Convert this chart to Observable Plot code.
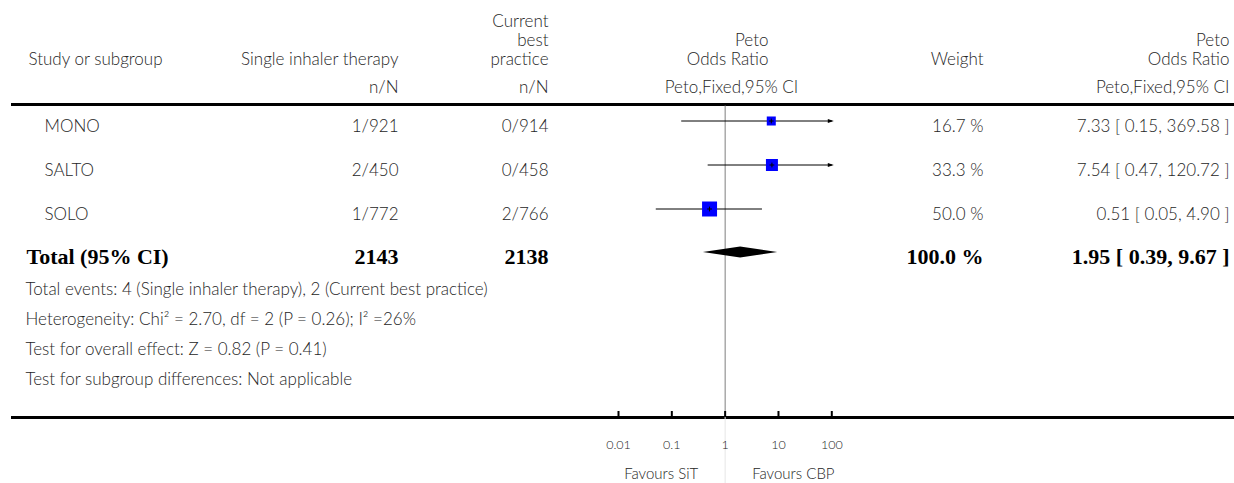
<!DOCTYPE html>
<html><head><meta charset="utf-8">
<script src="https://cdn.jsdelivr.net/npm/d3@7"></script>
<script src="https://cdn.jsdelivr.net/npm/@observablehq/plot@0.6"></script>
<style>
html,body{margin:0;padding:0;background:#fff;}
#chart{position:relative;width:1234px;height:483px;}
#chart svg{position:absolute;left:0;top:0;background:transparent;}
</style></head><body><div id="chart"></div>
<script>
// ---------- data ----------
const studies = ["MONO", "SALTO", "SOLO"];
const sitEvents = ["1/921", "2/450", "1/772"];
const cbpEvents = ["0/914", "0/458", "2/766"];
const oddsRatio = [7.33, 7.54, 0.51];
const ciLow = [0.15, 0.47, 0.05];
const ciHigh = [369.58, 120.72, 4.90];
const weights = [16.7, 33.3, 50.0];
const totalLabel = "Total (95% CI)";
const totalSit = 2143;
const totalCbp = 2138;
const totalOR = 1.95;
const totalLow = 0.39;
const totalHigh = 9.67;
const totalWeight = 100.0;
const footnotes = [
  "Total events: 4 (Single inhaler therapy), 2 (Current best practice)",
  "Heterogeneity: Chi\u00B2 = 2.70, df = 2 (P = 0.26); I\u00B2 =26%",
  "Test for overall effect: Z = 0.82 (P = 0.41)",
  "Test for subgroup differences: Not applicable"
];
const tickValues = [0.01, 0.1, 1, 10, 100];
const tickLabels = ["0.01", "0.1", "1", "10", "100"];
const favoursLabels = ["Favours SiT", "Favours CBP"];
const colTitles = ["Study or subgroup", "Single inhaler therapy", "Current\nbest\npractice", "Peto\nOdds Ratio", "Weight", "Peto\nOdds Ratio"];
const colSubTitles = ["", "n/N", "n/N", "Peto,Fixed,95% CI", "", "Peto,Fixed,95% CI"];

// ---------- layout ----------
const W = 1234, H = 483;
const ruleTopY = 104, ruleBottomY = 417, ruleLeft = 11;
const row0 = 120, rowStep = 44, textDy = 6;
const totalY = row0 + rowStep * studies.length;
const footY0 = 289, footStep = 30;
const headLastY = 59, headLineH = 19, subHeadY = 87;
const cols = [
  {x: 28, anchor: "start"},
  {x: 398, anchor: "end"},
  {x: 548, anchor: "end"},
  {x: 768, anchor: "end"},
  {x: 983, anchor: "end"},
  {x: 1229, anchor: "end"}
];
const subCols = [
  {x: 28, anchor: "start"},
  {x: 398, anchor: "end"},
  {x: 548, anchor: "end"},
  {x: 731, anchor: "middle"},
  {x: 983, anchor: "end"},
  {x: 1229, anchor: "end"}
];
const studyX = 44, footX = 25;
const forestRange = [618, 831.3];
const textColor = "#262626";
const sans = "Lato, 'Open Sans', sans-serif";
const serif = "'Liberation Serif', 'Times New Roman', serif";

// ---------- derived tables ----------
const fmt2 = v => v.toFixed(2);
const rows = studies.map((s, i) => ({
  study: s, sit: sitEvents[i], cbp: cbpEvents[i],
  or: oddsRatio[i], lo: ciLow[i], hi: ciHigh[i], w: weights[i],
  y: row0 + rowStep * i,
  wText: weights[i].toFixed(1) + " %",
  ciText: `${fmt2(oddsRatio[i])} [ ${fmt2(ciLow[i])}, ${fmt2(ciHigh[i])} ]`
}));

const headerCells = [];
colTitles.forEach((t, c) => {
  const lines = t.split("\n");
  lines.forEach((ln, k) => headerCells.push({
    text: ln, x: cols[c].x, anchor: cols[c].anchor,
    y: headLastY - (lines.length - 1 - k) * headLineH
  }));
});
colSubTitles.forEach((t, c) => { if (t) headerCells.push({text: t, x: subCols[c].x, anchor: subCols[c].anchor, y: subHeadY}); });

const cellMarks = [];
const addCol = (field, c, x) => cellMarks.push(Plot.text(rows, {
  x: () => x ?? cols[c].x, y: d => d.y + textDy, text: field, textAnchor: cols[c].anchor
}));
addCol("study", 0, studyX);
addCol("sit", 1);
addCol("cbp", 2);
addCol("wText", 4);
addCol("ciText", 5);

const totalCells = [
  {text: totalLabel, x: 26, anchor: "start"},
  {text: String(totalSit), x: cols[1].x, anchor: "end"},
  {text: String(totalCbp), x: cols[2].x, anchor: "end"},
  {text: totalWeight.toFixed(1) + " %", x: cols[4].x, anchor: "end"},
  {text: `${fmt2(totalOR)} [ ${fmt2(totalLow)}, ${fmt2(totalHigh)} ]`, x: cols[5].x, anchor: "end"}
];

// ---------- table plot ----------
const table = Plot.plot({
  width: W, height: H, margin: 0,
  x: {domain: [0, W], range: [0, W], axis: null},
  y: {domain: [0, H], range: [0, H], axis: null},
  style: {fontFamily: sans, fontSize: "17px", fontWeight: 300, color: textColor, background: "transparent"},
  marks: [
    ...["start", "middle", "end"].map(a => Plot.text(headerCells.filter(d => d.anchor === a), {
      x: "x", y: "y", text: "text", textAnchor: a
    })),
    ...cellMarks,
    ...["start", "end"].map(a => Plot.text(totalCells.filter(d => d.anchor === a), {
      x: "x", y: () => totalY + 4, text: "text", textAnchor: a,
      fontFamily: serif, fontWeight: "bold", fontSize: 22, fill: "#000"
    })),
    Plot.text(footnotes, {x: () => footX, y: (d, i) => footY0 + i * footStep, text: d => d, textAnchor: "start"}),
    Plot.ruleY([ruleTopY, ruleBottomY], {x1: ruleLeft, x2: W, stroke: "#000", strokeWidth: 3})
  ]
});

// ---------- forest plot ----------
const arrowRight = {draw(ctx, size) {
  const r = Math.sqrt(size / Math.PI);
  ctx.moveTo(r, 0); ctx.lineTo(-r, -r * 0.65); ctx.lineTo(-r, r * 0.65); ctx.closePath();
}};
const crossTick = {draw(ctx, size) {
  const r = Math.sqrt(size / Math.PI);
  ctx.moveTo(0, -r); ctx.lineTo(0, r); ctx.moveTo(-r, 0); ctx.lineTo(r, 0);
}};
const maxX = tickValues[tickValues.length - 1];
const diamond = [
  {x: totalLow, h: 0}, {x: totalOR, h: 5.5}, {x: totalHigh, h: 0}
];

const forest = Plot.plot({
  width: W, height: H, margin: 0,
  x: {type: "log", domain: [tickValues[0], maxX], range: forestRange, axis: null},
  y: {domain: [0, H], range: [0, H], axis: null},
  r: {type: "linear", domain: [0, 50], range: [3.4, 8.46]},
  style: {fontFamily: sans, fontSize: "13px", fontWeight: 300, color: textColor, background: "transparent"},
  marks: [
    Plot.ruleX([1], {y1: ruleTopY + 1.5, y2: ruleBottomY, stroke: "#7f7f7f", strokeWidth: 1}),
    Plot.ruleX([1], {y1: ruleBottomY, y2: H, stroke: "#e6e6e6", strokeWidth: 1}),
    Plot.link(rows, {x1: "lo", x2: d => Math.min(d.hi, maxX), y1: d => d.y + 0.5, y2: d => d.y + 0.5, stroke: "#000", strokeWidth: 1}),
    Plot.dot(rows.filter(d => d.hi > maxX), {x: () => maxX, y: d => d.y + 0.5, symbol: arrowRight, r: 3, fill: "#000", dx: -1}),
    Plot.dot(rows, {x: "or", y: d => d.y + 0.5, symbol: "square", r: "w", fill: "#0000ff", stroke: null}),
    Plot.dot(rows, {x: "or", y: d => d.y + 0.5, symbol: crossTick, r: 2.4, stroke: "#000", strokeWidth: 1, fill: "none"}),
    Plot.areaY(diamond, {x: "x", y1: d => totalY - d.h, y2: d => totalY + d.h, fill: "#000", curve: "linear"}),
    Plot.ruleX(tickValues, {x: d => d, y1: ruleBottomY - 6, y2: ruleBottomY, stroke: "#000", strokeWidth: 2}),
    Plot.text(tickValues, {x: d => d, y: () => 444, text: (d, i) => tickLabels[i], fontSize: 12.5}),
    Plot.text([favoursLabels[0]], {x: () => 1, y: () => 474, text: d => d, textAnchor: "end", dx: -27, fontSize: 15}),
    Plot.text([favoursLabels[1]], {x: () => 1, y: () => 474, text: d => d, textAnchor: "start", dx: 27, fontSize: 15})
  ]
});

const host = document.getElementById("chart");
host.appendChild(table);
host.appendChild(forest);
</script></body></html>
